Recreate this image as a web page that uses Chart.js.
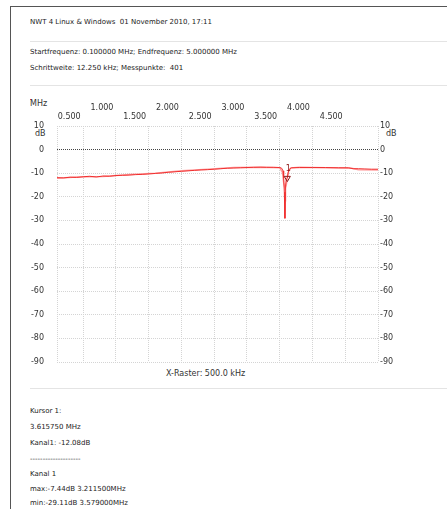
<!DOCTYPE html>
<html>
<head>
<meta charset="utf-8">
<script src="https://cdn.jsdelivr.net/npm/chart.js@4.4.1/dist/chart.umd.min.js"></script>
<style>
  html, body { margin: 0; padding: 0; background: #fff; }
  body { width: 447px; height: 509px; position: relative; overflow: hidden; font-family: "DejaVu Sans", sans-serif; color: #222; }
  .frame { position: absolute; left: 10px; top: 6px; right: -5px; bottom: -5px; border-left: 1px solid #555; border-top: 1px solid #555; }
  .txt { position: absolute; font-size: 7px; line-height: 10px; white-space: pre; }
  .sep { position: absolute; left: 30px; right: 0; height: 1px; background: #e4e4e4; }
  .lbl { position: absolute; font-size: 8px; line-height: 10px; color: #333; white-space: pre; }
  canvas { position: absolute; left: 0; top: 0; }
</style>
</head>
<body>
<div class="frame"></div>
<div class="txt" style="left:30px;top:17px">NWT 4 Linux &amp; Windows  01 November 2010, 17:11</div>
<div class="sep" style="top:41px"></div>
<div class="txt" style="left:30px;top:47px">Startfrequenz: 0.100000 MHz; Endfrequenz: 5.000000 MHz</div>
<div class="txt" style="left:30px;top:63px">Schrittweite: 12.250 kHz; Messpunkte:  401</div>
<div class="sep" style="top:85px"></div>
<div style="position:absolute;left:30px;top:99px;width:1px;height:1px;background:#e33"></div>
<div class="lbl" style="left:30px;top:99px">MHz</div>
<div class="lbl" style="left:35px;top:129px">dB</div>
<div class="lbl" style="left:386px;top:129px">dB</div>
<div class="lbl" style="left:166px;top:369px">X-Raster: 500.0 kHz</div>
<div class="sep" style="top:388px"></div>
<div class="txt" style="left:30px;top:406px">Kursor 1:</div>
<div class="txt" style="left:30px;top:422px">3.615750 MHz</div>
<div class="txt" style="left:30px;top:438px">Kanal1: -12.08dB</div>
<div class="txt" style="left:30px;top:454px">--------------------</div>
<div class="txt" style="left:30px;top:469px">Kanal 1</div>
<div class="txt" style="left:30px;top:484px">max:-7.44dB 3.211500MHz</div>
<div class="txt" style="left:30px;top:498px">min:-29.11dB 3.579000MHz</div>
<canvas id="chart" width="447" height="509"></canvas>
<script>
// frequency axis (MHz) and level axis (dB)
const xTicks = [0.1, 0.5, 1.0, 1.5, 2.0, 2.5, 3.0, 3.5, 4.0, 4.5, 5.0]
const yTicks = [10, 0, -10, -20, -30, -40, -50, -60, -70, -80, -90]

// Kanal 1 (red trace)
const freq = [0.10, 0.20, 0.30, 0.40, 0.50, 0.60, 0.70, 0.80, 0.90, 1.00,
  1.10, 1.20, 1.30, 1.40, 1.50, 1.60, 1.70, 1.80, 1.90, 2.00,
  2.10, 2.20, 2.30, 2.40, 2.50, 2.60, 2.70, 2.80, 2.90, 3.00,
  3.10, 3.2115, 3.30, 3.40, 3.50, 3.53, 3.55, 3.56, 3.57, 3.579,
  3.585, 3.59, 3.60, 3.61575, 3.63, 3.65, 3.68, 3.80, 4.00, 4.20,
  4.40, 4.55, 4.62, 4.70, 4.80, 4.90, 5.00]
const level = [-11.9, -12.0, -11.7, -11.8, -11.5, -11.3, -11.6, -11.2, -11.3, -11.0,
  -10.9, -10.8, -10.6, -10.5, -10.3, -10.1, -9.9, -9.6, -9.4, -9.2,
  -9.0, -8.8, -8.6, -8.5, -8.3, -8.1, -7.9, -7.8, -7.7, -7.6,
  -7.5, -7.44, -7.5, -7.5, -7.6, -7.9, -9.0, -12.0, -18.0, -29.11,
  -22.0, -15.0, -12.5, -12.08, -9.5, -8.2, -7.7, -7.6, -7.6, -7.6,
  -7.7, -7.7, -8.1, -8.1, -8.2, -8.3, -8.3]

// second (light) trace
const freq2 = [0.10, 0.40, 0.80, 1.20, 1.60, 2.00, 2.40, 2.80, 3.20, 3.50,
  3.54, 3.56, 3.58, 3.60, 3.62, 3.64, 3.67, 3.80, 4.20, 4.60, 4.70, 5.00]
const level2 = [-12.1, -11.6, -11.4, -10.6, -10.0, -9.0, -8.3, -7.6, -7.5, -7.7,
  -9.5, -14.0, -16.5, -15.0, -11.0, -9.0, -7.8, -7.5, -7.7, -7.9, -8.5, -8.6]

// cursor 1
const cursorFreq = [3.61575]
const cursorLevel = [-12.08]
const cursorLabel = ["1"]

const toXY = (xs, ys) => xs.map((x, i) => ({ x: x, y: ys[i] }))

const cursorText = {
  id: "cursorText",
  afterDatasetsDraw(chart) {
    const { ctx, scales } = chart
    ctx.save()
    ctx.fillStyle = "#8b1a1a"
    ctx.font = "8px 'DejaVu Sans'"
    ctx.textAlign = "center"
    ctx.textBaseline = "bottom"
    cursorFreq.forEach((f, i) => {
      const px = scales.x.getPixelForValue(f)
      const py = scales.y.getPixelForValue(cursorLevel[i])
      ctx.fillText(cursorLabel[i], px + 1, py - 5)
    })
    ctx.restore()
  }
}

const gridColor = (ctx) => ctx.tick && ctx.tick.value === 0 ? "#444" : "#d4d4d4"

new Chart(document.getElementById("chart"), {
  type: "scatter",
  data: {
    datasets: [
      {
        data: toXY(freq, level),
        showLine: true,
        borderColor: "#f03030",
        borderWidth: 1,
        pointRadius: 0,
        tension: 0,
        order: 1
      },
      {
        data: toXY(freq2, level2),
        showLine: true,
        borderColor: "#ffa0a0",
        borderWidth: 1.5,
        pointRadius: 0,
        tension: 0,
        order: 2
      },
      {
        data: toXY(cursorFreq, cursorLevel),
        showLine: false,
        pointStyle: "triangle",
        rotation: 180,
        pointRadius: 3.5,
        borderColor: "#8b1a1a",
        backgroundColor: "rgba(0,0,0,0)",
        borderWidth: 1,
        order: 0
      }
    ]
  },
  options: {
    responsive: false,
    animation: false,
    events: [],
    layout: { padding: { top: 90, bottom: 147, left: 0, right: 0 } },
    plugins: { legend: { display: false }, tooltip: { enabled: false } },
    scales: {
      x: {
        type: "linear",
        position: "top",
        min: 0.1,
        max: 5.0,
        afterBuildTicks: (axis) => { axis.ticks = xTicks.map(v => ({ value: v })) },
        afterFit: (axis) => { axis.height = 36 },
        grid: { color: "#d4d4d4", drawTicks: false },
        border: { display: false, dash: [1, 1] },
        ticks: {
          autoSkip: false,
          maxRotation: 0,
          align: "end",
          padding: 4,
          color: "#333",
          font: { family: "DejaVu Sans", size: 8 },
          callback: (v) => {
            if (v <= 0.1 || v >= 5.0) return ""
            const s = v.toFixed(3) + " "
            return Math.round(v) === v ? [s, ""] : ["", s]
          }
        }
      },
      y: {
        position: "left",
        min: -90,
        max: 10,
        afterBuildTicks: (axis) => { axis.ticks = yTicks.map(v => ({ value: v })) },
        afterFit: (axis) => { axis.width = 57 },
        grid: { color: gridColor, drawTicks: false },
        border: { display: false, dash: [1, 1] },
        ticks: { padding: 13, color: "#333", font: { family: "DejaVu Sans", size: 8 } }
      },
      y2: {
        position: "right",
        min: -90,
        max: 10,
        afterBuildTicks: (axis) => { axis.ticks = yTicks.map(v => ({ value: v })) },
        afterFit: (axis) => { axis.width = 69 },
        grid: { drawOnChartArea: false, drawTicks: false },
        border: { display: false },
        ticks: { padding: 2, color: "#333", font: { family: "DejaVu Sans", size: 8 } }
      }
    }
  },
  plugins: [cursorText]
})
</script>
</body>
</html>
